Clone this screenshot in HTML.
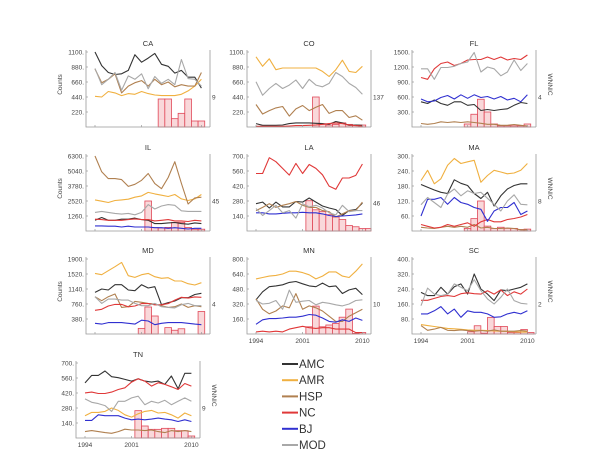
<!DOCTYPE html>
<html><head><meta charset="utf-8">
<style>
body{margin:0;background:#fff;width:600px;height:464px;overflow:hidden}
svg{display:block;font-family:"Liberation Sans",sans-serif}
</style></head>
<body>
<svg id="chart" width="600" height="464"></svg>
<script>
const years=[1994,1995,1996,1997,1998,1999,2000,2001,2002,2003,2004,2005,2006,2007,2008,2009,2010];
const seriesNames=["AMC","AMR","HSP","NC","BJ","MOD"];
const seriesColors=["#333333","#f0b040","#b08050","#e03838","#3030d0","#a8a8a8"];

const caTicks=[220,440,660,880,1100];
const caAMC=[1100,900,800,770,780,830,1060,950,1010,1080,920,890,790,830,730,730,570];
const caAMR=[450,440,520,500,460,490,480,520,490,470,460,460,460,480,530,600,700];
const caHSP=[850,650,700,780,500,600,650,680,600,700,620,660,590,620,600,600,800];
const caMOD=[860,620,700,800,540,750,700,780,560,740,640,700,620,990,710,700,600];
const caBars=[8.4,8.4,2.5,4.1,8.4,1.8,1.8];

const coTicks=[220,440,660,880,1100];
const coAMC=[50,25,25,25,30,50,60,60,60,55,50,40,80,60,25,30,25];
const coAMR=[1030,890,1000,840,865,865,865,865,865,865,815,740,840,980,815,800,890];
const coHSP=[330,190,240,280,300,160,265,315,240,290,330,200,240,240,140,165,100];
const coNC=[10,10,10,10,10,15,20,20,25,30,40,50,60,50,30,20,15];
const coMOD=[665,465,565,640,565,615,690,565,700,615,590,640,800,740,640,580,480];
const coBars=[137,12,9,12,19,12,9,9];

const flTicks=[300,600,900,1200,1500];
const flAMC=[505,470,540,470,435,505,505,435,450,330,350,330,350,365,435,490,470];
const flHSP=[70,55,70,105,90,105,90,105,90,75,55,55,35,35,50,35,20];
const flNC=[990,955,1165,1270,1300,1230,1270,1340,1350,1350,1400,1350,1400,1340,1370,1350,1440];
const flBJ=[560,505,520,590,630,560,645,575,645,590,610,560,610,540,575,505,645];
const flMOD=[1165,1165,955,1190,1190,1215,1270,1300,1490,1100,1200,1165,1025,1100,1340,1130,1270];
const flBars=[0.4,1.7,3.7,2,0.4,0.15,0.15,0.15,0.15,0.4];

const ilTicks=[1260,2520,3780,5040,6300];
const ilAMC=[900,1130,900,900,990,990,1080,960,900,620,620,680,710,620,570,680,620];
const ilAMR=[2610,2500,2390,2560,2610,2670,2840,2950,3240,3120,3010,2900,3070,2700,2560,2700,3070];
const ilHSP=[6300,4970,4400,4400,4320,3750,3920,4260,4830,3980,3550,4490,5820,4000,2270,2780,2840];
const ilNC=[990,960,900,900,900,960,1020,960,960,850,900,960,850,850,800,900,850];
const ilBJ=[430,430,400,400,340,400,340,340,340,280,280,230,280,230,170,230,230];
const ilMOD=[1560,1650,1560,1480,1420,1480,1360,1560,2220,1850,2100,2220,2160,1700,1650,1650,1650];
const ilBars=[45,5,4.5,5.4,13,13,5.4,2.7,2.7];

const laTicks=[140,280,420,560,700];
const laAMC=[255,270,215,270,225,225,275,270,308,270,233,215,200,146,190,200,260];
const laHSP=[190,220,255,220,240,255,275,240,220,220,190,180,130,160,190,190,270];
const laNC=[537,537,684,647,584,522,631,537,621,584,525,419,389,495,495,519,625];
const laBJ=[170,170,160,160,165,170,170,175,170,170,160,145,135,140,145,150,160];
const laMOD=[210,145,190,240,170,190,120,255,225,240,215,170,150,240,180,190,190];
const laBars=[50,35,32,27,23,19,9,7,4,4];

const maTicks=[60,120,180,240,300];
const maAMC=[186,175,164,155,150,205,191,182,150,130,155,100,141,168,182,189,189];
const maAMR=[202,243,189,209,263,290,270,277,283,195,222,243,236,229,232,243,270];
const maHSP=[15,12,10,15,19,15,19,15,26,12,15,10,10,12,10,5,5];
const maNC=[26,19,12,15,26,19,26,33,19,37,46,37,37,46,50,56,66];
const maBJ=[60,127,127,134,107,134,114,107,94,87,39,80,94,94,114,66,80];
const maMOD=[105,134,114,94,148,168,141,161,150,155,131,107,80,120,145,107,105];
const maBars=[0.7,3.3,8,1.3,0.7,1,0.7,0.7,0.4,0.5];

const mdTicks=[380,760,1140,1520,1900];
const mdAMC=[1055,1140,1114,1250,1250,1114,1097,1250,1165,1199,743,794,836,920,920,1000,1030];
const mdAMR=[1536,1503,1604,1705,1815,1477,1435,1503,1536,1452,1410,1427,1342,1342,1274,1241,1300];
const mdHSP=[945,844,945,1013,675,692,827,802,776,760,718,675,692,760,675,718,692];
const mdNC=[600,625,710,750,750,690,710,770,770,740,740,770,860,930,910,940,930];
const mdBJ=[270,250,290,290,290,270,250,350,330,235,270,290,290,290,270,250,235];
const mdMOD=[945,776,885,885,860,860,776,718,718,776,692,675,660,743,776,718,718];
const mdBars=[0.75,3.6,2.4,0,0.85,0.5,0.7,0,0,3];

const mnTicks=[160,320,480,640,800];
const mnAMC=[365,450,505,513,525,550,560,535,513,505,543,505,513,432,470,487,420];
const mnAMR=[588,603,618,625,640,670,670,655,632,588,618,662,662,618,603,670,748];
const mnHSP=[375,264,216,245,300,280,431,264,300,280,245,190,134,134,190,227,264];
const mnNC=[22,30,22,30,22,52,67,82,67,60,67,67,52,52,52,15,15];
const mnBJ=[104,152,164,164,171,179,179,190,208,201,171,134,126,152,134,171,145];
const mnMOD=[357,320,327,357,264,468,338,350,357,312,338,327,312,300,320,357,365];
const mnBars=[2.4,9.3,2.4,3,3.5,5.6,8.3,0.2,0.5];

const scTicks=[80,160,240,320,400];
const scAMC=[222,205,205,249,213,252,267,213,320,240,213,178,235,231,240,249,267];
const scAMR=[50,45,40,35,30,28,25,22,20,20,18,16,15,14,12,10,10];
const scHSP=[45,20,26,35,20,18,22,18,15,18,15,22,15,15,15,18,15];
const scNC=[180,180,190,200,205,200,215,220,215,213,231,213,235,205,225,213,240];
const scBJ=[107,107,124,146,107,133,89,124,116,116,107,89,92,107,116,107,124];
const scMOD=[151,245,213,205,213,267,249,231,290,231,187,160,196,240,178,164,160];
const scBars=[0.15,0.55,0.06,1.1,0.5,0.5,0.1,0.1,0.3,0.1];

const tnTicks=[140,280,420,560,700];
const tnAMC=[514,584,584,625,572,563,547,531,553,531,522,531,500,579,459,604,604];
const tnAMR=[207,239,239,248,280,258,217,195,226,248,258,233,239,217,186,233,207];
const tnHSP=[60,69,60,50,44,60,82,75,75,69,75,60,50,69,60,69,60];
const tnNC=[421,428,415,415,428,453,469,522,553,531,484,516,500,478,453,509,484];
const tnBJ=[164,164,217,208,208,208,186,170,176,170,176,186,176,170,154,170,154];
const tnMOD=[365,333,321,302,248,343,343,374,390,311,343,327,352,311,343,374,343];
const tnBars=[8.2,3.6,2.6,2.6,2.9,2.9,2.2,2.2,0.6];

const panels=[
 {t:"CA",x:86,y:52,ticks:caTicks,s:[caAMC,caAMR,caHSP,null,null,caMOD],bars:caBars,bs:2003.5,rl:"9",rlv:9,rly:440,counts:true,wn:false,years:false},
 {t:"CO",x:247,y:52,ticks:coTicks,s:[coAMC,coAMR,coHSP,coNC,null,coMOD],bars:coBars,bs:2002.5,rl:"137",rlv:137,rly:440,counts:false,wn:false,years:false},
 {t:"FL",x:412,y:52,ticks:flTicks,s:[flAMC,null,flHSP,flNC,flBJ,flMOD],bars:flBars,bs:2000.5,rl:"4",rlv:4,rly:600,counts:false,wn:true,years:false},
 {t:"IL",x:86,y:156,ticks:ilTicks,s:[ilAMC,ilAMR,ilHSP,ilNC,ilBJ,ilMOD],bars:ilBars,bs:2001.5,rl:"45",rlv:45,rly:2520,counts:true,wn:false,years:false},
 {t:"LA",x:247,y:156,ticks:laTicks,s:[laAMC,null,laHSP,laNC,laBJ,laMOD],bars:laBars,bs:2001.5,rl:"46",rlv:46,rly:260,counts:false,wn:false,years:false},
 {t:"MA",x:412,y:156,ticks:maTicks,s:[maAMC,maAMR,maHSP,maNC,maBJ,maMOD],bars:maBars,bs:2000.5,rl:"8",rlv:8,rly:120,counts:false,wn:true,years:false},
 {t:"MD",x:86,y:259,ticks:mdTicks,s:[mdAMC,mdAMR,mdHSP,mdNC,mdBJ,mdMOD],bars:mdBars,bs:2000.5,rl:"4",rlv:4,rly:760,counts:true,wn:false,years:false},
 {t:"MN",x:247,y:259,ticks:mnTicks,s:[mnAMC,mnAMR,mnHSP,mnNC,mnBJ,mnMOD],bars:mnBars,bs:2001.5,rl:"10",rlv:10,rly:320,counts:false,wn:false,years:true},
 {t:"SC",x:412,y:259,ticks:scTicks,s:[scAMC,scAMR,scHSP,scNC,scBJ,scMOD],bars:scBars,bs:2001,rl:"2",rlv:2,rly:160,counts:false,wn:true,years:true},
 {t:"TN",x:76,y:363,ticks:tnTicks,s:[tnAMC,tnAMR,tnHSP,tnNC,tnBJ,tnMOD],bars:tnBars,bs:2001.5,rl:"9",rlv:9,rly:280,counts:false,wn:true,years:true}
];

const NS="http://www.w3.org/2000/svg";
const svg=document.getElementById("chart");
function mk(tag,attrs,parent){const e=document.createElementNS(NS,tag);for(const k in attrs)e.setAttribute(k,attrs[k]);(parent||svg).appendChild(e);return e;}
const W=124,H=75,PX=6.65;

panels.forEach(p=>{
  const g=mk("g",{});
  
  
  const max=p.ticks[p.ticks.length-1];
  const xs=yr=>p.x+9+(yr-1994)*PX;
  const ys=v=>p.y+H-(v/max)*H;
  const bottom=p.y+H, right=p.x+W;
  // bars
  const barScale=(p.rly/max)*H/p.rlv;
  p.bars.forEach((b,i)=>{
    if(b<=0)return;
    const x0=xs(p.bs+i);
    let w=PX; if(x0+w>right)w=right-x0; if(w<=0)return;
    const r=mk("rect",{x:x0,y:bottom-b*barScale,width:w,height:b*barScale,fill:"#f9d8da",stroke:"#e04858","stroke-width":0.8},g);
    
    
  });
  // series
  p.s.forEach((arr,si)=>{
    if(!arr)return;
    const pts=arr.map((v,i)=>xs(years[i]).toFixed(1)+","+ys(v).toFixed(1)).join(" ");
    const l=mk("polyline",{points:pts,fill:"none",stroke:seriesColors[si],"stroke-width":1.1,"stroke-linejoin":"round"},g);
    
    
  });
  // axes
  const ax=mk("path",{d:`M${p.x},${p.y-2}V${bottom}H${right}M${right},${p.y-2}V${bottom}`,fill:"none",stroke:"#999","stroke-width":0.8},g);
  
  
  p.ticks.forEach(tv=>{
    mk("line",{x1:p.x,x2:p.x+2,y1:ys(tv),y2:ys(tv),stroke:"#999","stroke-width":0.7},g);
    const t=mk("text",{x:p.x-2,y:ys(tv)+2.3,"font-size":6.5,"text-anchor":"end",fill:"#444"},g);
    t.textContent=tv+".";
    
    
  });
  [1994,2001,2010].forEach(yr=>{
    mk("line",{x1:xs(yr),x2:xs(yr),y1:bottom,y2:bottom-2,stroke:"#999","stroke-width":0.7},g);
    if(p.years){
      const t=mk("text",{x:xs(yr),y:bottom+9,"font-size":6.5,"text-anchor":"middle",fill:"#444"},g);
      t.textContent=yr;
      
      
    }
  });
  const ti=mk("text",{x:p.x+W/2,y:p.y-6,"font-size":7.5,"text-anchor":"middle",fill:"#333"},g);
  ti.textContent=p.t;
  
  
  const rl=mk("text",{x:right+2,y:ys(p.rly)+2.3,"font-size":6.5,fill:"#444"},g);
  rl.textContent=p.rl;
  
  
  if(p.counts){
    const c=mk("text",{x:0,y:0,"font-size":6.5,"text-anchor":"middle",fill:"#444",transform:`translate(${p.x-24},${p.y+H/2-5}) rotate(-90)`},g);
    c.textContent="Counts";
    
    
  }
  if(p.wn){
    const c=mk("text",{x:0,y:0,"font-size":6.5,"text-anchor":"middle",fill:"#444",transform:`translate(${right+12},${p.y+H/2-5}) rotate(90)`},g);
    c.textContent="WNNIC";
    
    
  }
});

// legend
seriesNames.forEach((n,i)=>{
  const y=364+i*16.2;
  const g=mk("g",{});
  
  
  mk("line",{x1:282,x2:298,y1:y,y2:y,stroke:seriesColors[i],"stroke-width":2},g);
  const t=mk("text",{x:299,y:y+4,"font-size":11.5,fill:"#333"},g);
  t.textContent=n;
});
</script>
</body></html>
